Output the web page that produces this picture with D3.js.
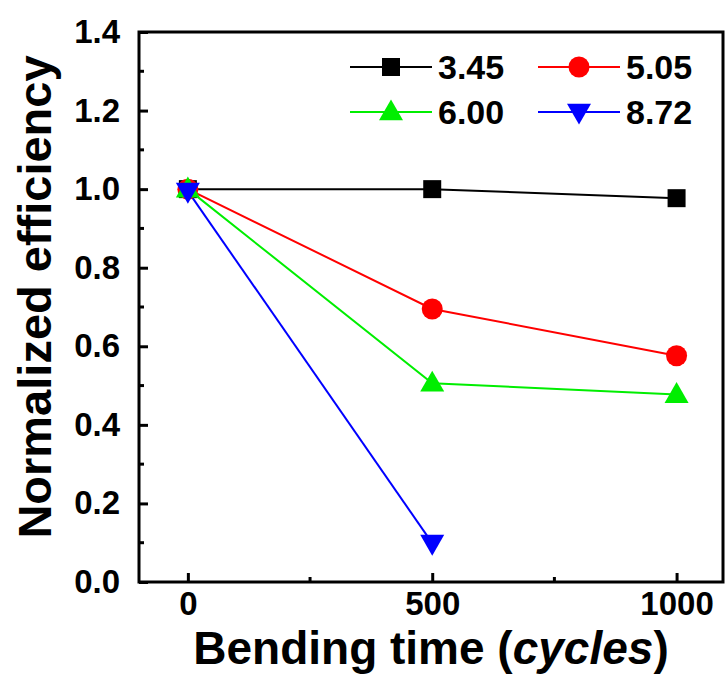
<!DOCTYPE html>
<html>
<head>
<meta charset="utf-8">
<script src="https://cdn.jsdelivr.net/npm/d3@7"></script>
<style>
  body { margin: 0; background: #fff; }
  svg text { font-family: "Liberation Sans", Arial, sans-serif; font-weight: bold; }
</style>
</head>
<body>
<svg id="canvas" width="726" height="681"></svg>
<script>
let cycles = [0, 500, 1000];
let seriesNames = ['3.45', '5.05', '6.00', '8.72'];
let seriesColors = ['#000000', '#ff0000', '#00ee00', '#0000ff'];
let seriesSymbols = ['square', 'circle', 'triangleUp', 'triangleDown'];
let eff345 = [1.0, 1.0, 0.977];
let eff505 = [1.0, 0.695, 0.576];
let eff600 = [1.0, 0.506, 0.477];
let eff872 = [0.995, 0.099];
let yTicks = [0, 0.2, 0.4, 0.6, 0.8, 1.0, 1.2, 1.4];
let xTicks = [0, 500, 1000];

let seriesValues = [eff345, eff505, eff600, eff872];

let plotLeft = 139, plotRight = 723, plotTop = 32, plotBottom = 582;

let canvas = d3.select('#canvas');

let xScale = d3.scaleLinear().domain([-100, 1095]).range([plotLeft, plotRight]);
let yScale = d3.scaleLinear().domain([0, 1.4]).range([plotBottom, plotTop]);

// marker shapes
let symbolPath = (name, size) => {
  let s = size;
  if (name === 'square') return d3.symbol().type(d3.symbolSquare).size(s * s)();
  if (name === 'circle') return d3.symbol().type(d3.symbolCircle).size(Math.PI * s * s / 4)();
  let h = s * 0.87, w = s;
  if (name === 'triangleUp') return `M0,${-h * 0.6}L${w / 2},${h * 0.4}L${-w / 2},${h * 0.4}Z`;
  return `M0,${h * 0.6}L${w / 2},${-h * 0.4}L${-w / 2},${-h * 0.4}Z`;
};
let symbolSize = { square: 18, circle: 21, triangleUp: 24, triangleDown: 24 };

// series lines + markers
let line = d3.line()
  .x((d) => xScale(d[0]))
  .y((d) => yScale(d[1]));

seriesValues.forEach((vals, i) => {
  let pts = vals.map((v, j) => [cycles[j], v]);
  canvas.append('path')
    .attr('d', line(pts))
    .attr('fill', 'none')
    .attr('stroke', seriesColors[i])
    .attr('stroke-width', 2);
});
seriesValues.forEach((vals, i) => {
  canvas.selectAll('.m' + i)
    .data(vals)
    .enter()
    .append('path')
    .attr('class', 'm' + i)
    .attr('d', symbolPath(seriesSymbols[i], symbolSize[seriesSymbols[i]]))
    .attr('transform', (d, j) => `translate(${xScale(cycles[j])},${yScale(d)})`)
    .attr('fill', seriesColors[i]);
});

// axes
let yAxis = d3.axisLeft(yScale).tickValues(yTicks).tickSize(-9).tickPadding(19)
  .tickFormat(d3.format('.1f'));
let xAxis = d3.axisBottom(xScale).tickValues(xTicks).tickSize(-9).tickPadding(10)
  .tickFormat(d3.format('d'));

let gy = canvas.append('g').attr('transform', `translate(${plotLeft},0)`).call(yAxis);
let gx = canvas.append('g').attr('transform', `translate(0,${plotBottom})`).call(xAxis);

[gx, gy].forEach((g) => {
  g.select('.domain').remove();
  g.selectAll('line').attr('stroke', '#000').attr('stroke-width', 3);
  g.selectAll('text').attr('fill', '#000').style('font-size', '33px');
});

// minor ticks
let yMinor = [0.1, 0.3, 0.5, 0.7, 0.9, 1.1, 1.3];
canvas.selectAll('.ymin').data(yMinor).enter().append('line')
  .attr('x1', plotLeft).attr('x2', plotLeft + 5)
  .attr('y1', (d) => yScale(d)).attr('y2', (d) => yScale(d))
  .attr('stroke', '#000').attr('stroke-width', 3);
let xMinor = [250, 750];
canvas.selectAll('.xmin').data(xMinor).enter().append('line')
  .attr('x1', (d) => xScale(d)).attr('x2', (d) => xScale(d))
  .attr('y1', plotBottom).attr('y2', plotBottom - 5)
  .attr('stroke', '#000').attr('stroke-width', 3);

// frame
canvas.append('rect')
  .attr('x', plotLeft).attr('y', plotTop)
  .attr('width', plotRight - plotLeft).attr('height', plotBottom - plotTop)
  .attr('fill', 'none').attr('stroke', '#000').attr('stroke-width', 3);

// legend
let legendPos = [[350, 67], [538, 67], [350, 112], [538, 112]];
seriesNames.forEach((name, i) => {
  let [lx, ly] = legendPos[i];
  let g = canvas.append('g').attr('transform', `translate(${lx},${ly})`);
  g.append('line').attr('x1', 0).attr('x2', 82).attr('y1', 0).attr('y2', 0)
    .attr('stroke', seriesColors[i]).attr('stroke-width', 2);
  g.append('path').attr('d', symbolPath(seriesSymbols[i], symbolSize[seriesSymbols[i]]))
    .attr('transform', 'translate(41,0)').attr('fill', seriesColors[i]);
  g.append('text').attr('x', 88).attr('y', 12).text(name)
    .style('font-size', '34px').attr('fill', '#000');
});

// axis titles
canvas.append('text')
  .attr('transform', `translate(51,297) rotate(-90)`)
  .attr('text-anchor', 'middle')
  .style('font-size', '47px')
  .text('Normalized efficiency');

let xt = canvas.append('text')
  .attr('x', 431).attr('y', 664)
  .attr('text-anchor', 'middle')
  .style('font-size', '46px');
xt.append('tspan').text('Bending time (');
xt.append('tspan').attr('font-style', 'italic').text('cycles');
xt.append('tspan').text(')');
</script>
</body>
</html>
